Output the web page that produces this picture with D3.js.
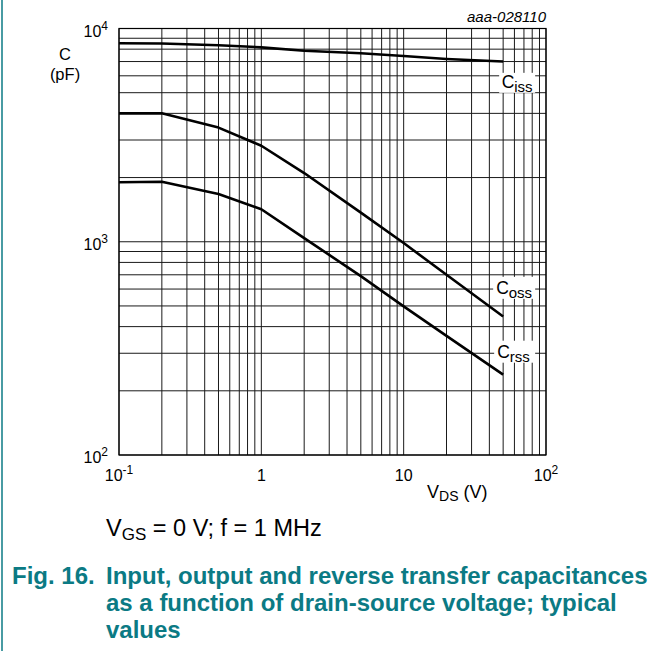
<!DOCTYPE html>
<html>
<head>
<meta charset="utf-8">
<script src="https://cdn.jsdelivr.net/npm/d3@7"></script>
<style>
  html, body { margin: 0; padding: 0; background: #fff; }
  svg { display: block; font-family: "Liberation Sans", Arial, sans-serif; }
</style>
</head>
<body>
<svg id="chart" width="657" height="651"></svg>
<script>
// ---- data ----
const vds  = [0.1, 0.2, 0.5, 1, 2, 5, 10, 20, 50];
const ciss = [8530, 8500, 8350, 8160, 7870, 7650, 7430, 7200, 7000];
const coss = [4000, 4000, 3430, 2820, 2100, 1370, 986, 700, 446];
const crss = [1900, 1910, 1675, 1420, 1040, 690, 498, 362, 238];
const seriesNames = ["iss", "oss", "rss"];
const xTickBases = [0.1, 1, 10, 100];
const xTickExps = ["-1", null, null, "2"];
const xTickPlain = ["10", "1", "10", "10"];
const yTickValues = [100, 1000, 10000];
const yTickExps = ["2", "3", "4"];

const svg = d3.select("#chart");
const teal = "#0b7a84";

const x = d3.scaleLog().domain([0.1, 100]).range([119, 546]);
const y = d3.scaleLog().domain([100, 10000]).range([455, 28.5]);

// page border at left
svg.append("line").attr("x1", 2).attr("x2", 2).attr("y1", 0).attr("y2", 651)
  .attr("stroke", teal).attr("stroke-width", 1.5);

// grid
const g = svg.append("g");
g.selectAll("line.vx").data(x.ticks()).join("line")
  .attr("x1", d => x(d)).attr("x2", d => x(d))
  .attr("y1", y.range()[0]).attr("y2", y.range()[1])
  .attr("stroke", "#1a1a1a").attr("stroke-width", 1);
g.selectAll("line.hy").data(y.ticks()).join("line")
  .attr("y1", d => y(d)).attr("y2", d => y(d))
  .attr("x1", x.range()[0]).attr("x2", x.range()[1])
  .attr("stroke", "#1a1a1a").attr("stroke-width", 1);
g.append("rect").attr("x", x.range()[0]).attr("y", y.range()[1])
  .attr("width", x.range()[1] - x.range()[0]).attr("height", y.range()[0] - y.range()[1])
  .attr("fill", "none").attr("stroke", "#000").attr("stroke-width", 1.2);

// curves
const line = d3.line().x(d => x(d[0])).y(d => y(d[1])).curve(d3.curveLinear);
const allSeries = [ciss, coss, crss];
allSeries.forEach(s => {
  svg.append("path").datum(vds.map((v, i) => [v, s[i]]))
    .attr("d", line).attr("fill", "none").attr("stroke", "#000")
    .attr("stroke-width", 2.6).attr("stroke-linejoin", "round");
});

// curve labels (offsets relative to each curve's last point)
const labelPos = [
  {dx: -1.5, dy: 26, box: [-4, 11.3, 36, 20]},
  {dx: -7, dy: -23, box: [-10, -39.7, 42, 22]},
  {dx: -6, dy: -17, box: [-9, -34, 41, 22]}
];
allSeries.forEach((s, i) => {
  const last = s.length - 1;
  const ex = x(vds[last]), ey = y(s[last]);
  const b = labelPos[i].box;
  svg.append("rect").attr("x", ex + b[0]).attr("y", ey + b[1])
    .attr("width", b[2]).attr("height", b[3]).attr("fill", "#fff");
  const t = svg.append("text").attr("x", ex + labelPos[i].dx).attr("y", ey + labelPos[i].dy)
    .attr("font-size", 17.5).attr("fill", "#000");
  t.append("tspan").text("C");
  t.append("tspan").attr("font-size", 15).attr("dy", 4).text(seriesNames[i]);
});

// y tick labels
yTickValues.forEach((v, i) => {
  const t = svg.append("text").attr("x", 108).attr("y", y(v) + 8)
    .attr("text-anchor", "end").attr("font-size", 16).attr("fill", "#000");
  t.append("tspan").text("10");
  t.append("tspan").attr("font-size", 12).attr("dy", -7).text(yTickExps[i]);
});

// x tick labels
xTickBases.forEach((v, i) => {
  const t = svg.append("text").attr("x", x(v)).attr("y", 481)
    .attr("text-anchor", "middle").attr("font-size", 16).attr("fill", "#000");
  t.append("tspan").text(xTickPlain[i]);
  if (xTickExps[i]) t.append("tspan").attr("font-size", 12).attr("dy", -7).text(xTickExps[i]);
});

// axis titles
svg.append("text").attr("x", 65).attr("y", 60).attr("text-anchor", "middle")
  .attr("font-size", 16.5).text("C");
svg.append("text").attr("x", 65).attr("y", 80).attr("text-anchor", "middle")
  .attr("font-size", 16.5).text("(pF)");
const xt = svg.append("text").attr("x", 427).attr("y", 498).attr("font-size", 18);
xt.append("tspan").text("V");
xt.append("tspan").attr("font-size", 14).attr("dy", 3).text("DS");
xt.append("tspan").attr("dy", -3).text(" (V)");

// figure id
svg.append("text").attr("x", 546).attr("y", 21.5).attr("text-anchor", "end")
  .attr("font-size", 15).attr("font-style", "italic").text("aaa-028110");

// conditions
const cond = svg.append("text").attr("x", 106).attr("y", 536).attr("font-size", 23.5);
cond.append("tspan").text("V");
cond.append("tspan").attr("font-size", 17).attr("dy", 4).text("GS");
cond.append("tspan").attr("dy", -4).text(" = 0 V; f = 1 MHz");

// caption
const cap = svg.append("g").attr("fill", teal).attr("font-weight", "bold").attr("font-size", 24);
cap.append("text").attr("x", 12).attr("y", 584).text("Fig. 16.");
cap.append("text").attr("x", 106).attr("y", 584).text("Input, output and reverse transfer capacitances");
cap.append("text").attr("x", 106).attr("y", 611).text("as a function of drain-source voltage; typical");
cap.append("text").attr("x", 106).attr("y", 638).text("values");
</script>
</body>
</html>
